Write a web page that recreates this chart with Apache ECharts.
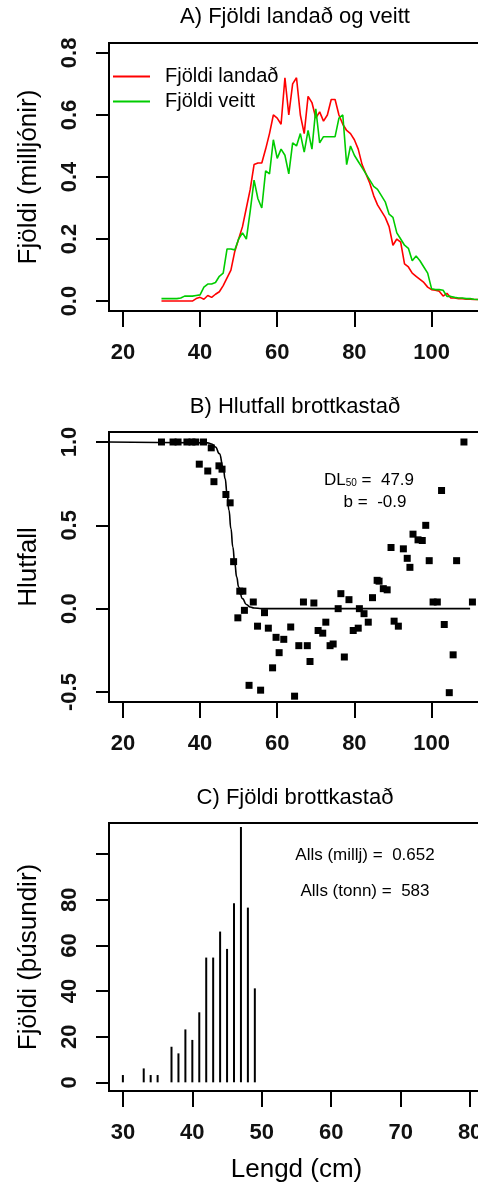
<!DOCTYPE html>
<html><head><meta charset="utf-8">
<script src="https://cdn.jsdelivr.net/npm/echarts@6/dist/echarts.min.js"></script>
<style>html,body{margin:0;padding:0;background:#fff;}#c{width:478px;height:1184px;}</style>
</head><body><div id="c"></div>
<script>
// ---------- Panel A: numbers landed / released (millions) by length ----------
const lengthA = [30,31,32,33,34,35,36,37,38,39,40,41,42,43,44,45,46,47,48,49,50,51,52,53,54,55,56,57,58,59,60,61,62,63,64,65,66,67,68,69,70,71,72,73,74,75,76,77,78,79,80,81,82,83,84,85,86,87,88,89,90,91,92,93,94,95,96,97,98,99,100,101,102,103,104,105,106,107,108,109,110,111,112,113];
const landed = [0,0,0,0,0,0,0,0,0,0.008,0.012,0.006,0.018,0.012,0.022,0.03,0.05,0.075,0.1,0.16,0.2,0.24,0.3,0.36,0.44,0.445,0.445,0.49,0.54,0.6,0.59,0.57,0.72,0.6,0.7,0.72,0.6,0.54,0.66,0.64,0.59,0.61,0.58,0.6,0.65,0.65,0.6,0.57,0.55,0.54,0.52,0.49,0.44,0.41,0.38,0.34,0.31,0.29,0.27,0.24,0.18,0.2,0.19,0.12,0.11,0.09,0.08,0.07,0.06,0.045,0.037,0.035,0.032,0.016,0.025,0.01,0.01,0.008,0.008,0.006,0.006,0.005,0.005,0.005];
const released = [0.008,0.008,0.008,0.008,0.008,0.01,0.016,0.016,0.016,0.018,0.02,0.045,0.055,0.055,0.06,0.08,0.09,0.168,0.168,0.165,0.2,0.22,0.2,0.29,0.39,0.33,0.3,0.42,0.41,0.52,0.46,0.49,0.47,0.41,0.51,0.5,0.54,0.48,0.55,0.49,0.62,0.51,0.53,0.53,0.53,0.53,0.59,0.6,0.44,0.5,0.47,0.45,0.43,0.41,0.39,0.37,0.36,0.34,0.32,0.28,0.27,0.22,0.2,0.18,0.17,0.13,0.145,0.13,0.11,0.09,0.04,0.037,0.037,0.035,0.015,0.015,0.012,0.01,0.01,0.008,0.008,0.006,0.005,0.005];
const xTicksA = [20,40,60,80,100];
const yTicksA = [0,0.2,0.4,0.6,0.8];

// ---------- Panel B: proportion discarded ----------
const propX = [30,33,34.3,36.6,37.9,38.9,40.9,42.9,39.8,42.0,43.6,44.9,45.7,46.7,47.8,48.7,50.3,51.1,49.8,51.5,53.8,56.7,54.9,57.7,59.7,61.7,60.5,58.8,52.7,55.7,63.5,64.5,66.8,69.5,65.6,67.8,68.5,70.6,71.8,72.6,73.7,74.5,77.4,75.8,76.5,78.6,79.7,81.0,81.3,82.5,83.6,84.7,85.9,86.4,87.5,88.5,90.3,91.4,89.5,92.7,93.7,94.4,95.2,96.5,97.6,98.5,99.4,100.4,101.5,102.6,103.3,104.6,105.6,106.5,108.4,110.6];
const propY = [1,1,1,1,1,1,1,0.965,0.867,0.826,0.762,0.857,0.837,0.685,0.635,0.282,0.105,0.105,-0.055,-0.01,0.04,-0.024,-0.105,-0.117,-0.172,-0.184,-0.264,-0.355,-0.46,-0.489,-0.11,-0.525,0.04,0.034,-0.222,-0.222,-0.317,-0.131,-0.147,-0.081,-0.222,-0.212,-0.29,0.0,0.09,0.054,-0.131,-0.117,0.0,-0.03,-0.081,0.066,0.17,0.165,0.12,0.113,-0.075,-0.105,0.367,0.359,0.302,0.248,0.447,0.413,0.409,0.5,0.288,0.04,0.04,0.709,-0.095,-0.504,-0.277,0.288,1.0,0.04];
const curveX = [16,42,43,44,45,46,46.5,47,47.5,48,48.5,49,49.5,50,51,52,53,54,56,110];
const curveY = [1,0.995,0.988,0.97,0.93,0.85,0.78,0.69,0.59,0.48,0.37,0.27,0.19,0.13,0.06,0.025,0.01,0.004,0,0];
const xTicksB = [20,40,60,80,100];
const yTicksB = [-0.5,0,0.5,1.0];

// ---------- Panel C: numbers discarded (thousands) ----------
const lengthC = [30,33,34,35,37,38,39,40,41,42,43,44,45,46,47,48,49];
const discarded = [3.2,6.1,3.2,3.2,15.6,12.7,23.2,18.6,30.7,54.7,54.7,66.1,58.5,78.5,112,76.6,41.2];
const xTicksC = [30,40,50,60,70,80];
const yTicksC = [0,20,40,60,80,100];
const yLabelsC = [0,20,40,60,80];

const FF = "'Liberation Sans', Arial, sans-serif";
const BLACK = '#000';

function xAxisCfg(gi, min, max, ticks, extra) {
  return Object.assign({
    gridIndex: gi, type: 'value', min: min, max: max,
    axisLine: {show: false, onZero: false},
    axisTick: {show: true, length: 16, lineStyle: {color: BLACK, width: 2}, customValues: ticks},
    axisLabel: {customValues: ticks, margin: 31, fontSize: 22, fontWeight: 'bold', color: '#111', fontFamily: FF},
    splitLine: {show: false}
  }, extra || {});
}
function yAxisCfg(gi, min, max, ticks, labels, fmt, name) {
  return {
    gridIndex: gi, type: 'value', min: min, max: max,
    axisLine: {show: false, onZero: false},
    axisTick: {show: true, length: 13, lineStyle: {color: BLACK, width: 2}, customValues: ticks},
    axisLabel: {customValues: labels, rotate: 90, margin: 28, fontSize: 22, fontWeight: 'bold', color: '#111', fontFamily: FF, formatter: fmt},
    splitLine: {show: false},
    name: name, nameLocation: 'middle', nameGap: 67,
    nameTextStyle: {fontSize: 26, color: BLACK, fontFamily: FF}
  };
}
const gridStyle = {show: true, borderColor: BLACK, borderWidth: 2, backgroundColor: 'transparent', containLabel: false, outerBoundsMode: 'none'};

const chart = echarts.init(document.getElementById('c'));
chart.setOption({
  animation: false,
  backgroundColor: '#fff',
  grid: [
    Object.assign({left: 109, top: 43, width: 375, height: 268}, gridStyle),
    Object.assign({left: 109, top: 432, width: 375, height: 270}, gridStyle),
    Object.assign({left: 109, top: 823, width: 375, height: 268}, gridStyle)
  ],
  xAxis: [
    xAxisCfg(0, 16.4, 113.6, xTicksA),
    xAxisCfg(1, 16.4, 113.6, xTicksB),
    xAxisCfg(2, 28, 82, xTicksC, {name: 'Lengd (cm)', nameLocation: 'middle', nameGap: 66,
      nameTextStyle: {fontSize: 26, color: BLACK, fontFamily: FF}})
  ],
  yAxis: [
    yAxisCfg(0, -0.032, 0.832, yTicksA, yTicksA, v => v.toFixed(1), 'Fjöldi (milljónir)'),
    yAxisCfg(1, -0.56, 1.06, yTicksB, yTicksB, v => v.toFixed(1), 'Hlutfall'),
    yAxisCfg(2, -3.8, 113.7, yTicksC, yLabelsC, v => String(v), 'Fjöldi (þúsundir)')
  ],
  legend: {
    data: ['Fjöldi landað', 'Fjöldi veitt'],
    orient: 'vertical', left: 113, top: 64, padding: 0, itemGap: 0,
    itemWidth: 37, itemHeight: 2, icon: 'rect', selectedMode: false,
    textStyle: {fontSize: 20, lineHeight: 25, color: BLACK, fontFamily: FF, padding: [0, 0, 0, 10]}
  },
  graphic: [
    {type: 'text', x: 295, y: 17, style: {text: 'A) Fjöldi landað og veitt', fontSize: 22, fontFamily: FF, fill: BLACK, align: 'center', verticalAlign: 'middle'}},
    {type: 'text', x: 295, y: 407, style: {text: 'B) Hlutfall brottkastað', fontSize: 22, fontFamily: FF, fill: BLACK, align: 'center', verticalAlign: 'middle'}},
    {type: 'text', x: 295, y: 798, style: {text: 'C) Fjöldi brottkastað', fontSize: 22, fontFamily: FF, fill: BLACK, align: 'center', verticalAlign: 'middle'}},
    {type: 'text', x: 369, y: 480, style: {text: '{a|DL}{s|50}{a| =  47.9}', align: 'center', verticalAlign: 'middle',
      rich: {a: {fontSize: 17, fontFamily: FF, fill: BLACK, color: BLACK}, s: {fontSize: 10, fontFamily: FF, color: BLACK, verticalAlign: 'bottom'}}}},
    {type: 'text', x: 375, y: 502, style: {text: 'b =  -0.9', fontSize: 17, fontFamily: FF, fill: BLACK, align: 'center', verticalAlign: 'middle'}},
    {type: 'text', x: 365, y: 855, style: {text: 'Alls (millj) =  0.652', fontSize: 17, fontFamily: FF, fill: BLACK, align: 'center', verticalAlign: 'middle'}},
    {type: 'text', x: 365, y: 891, style: {text: 'Alls (tonn) =  583', fontSize: 17, fontFamily: FF, fill: BLACK, align: 'center', verticalAlign: 'middle'}}
  ],
  series: [
    {name: 'Fjöldi landað', type: 'line', xAxisIndex: 0, yAxisIndex: 0, showSymbol: false,
     color: '#FF0000', lineStyle: {color: '#FF0000', width: 1.6},
     data: lengthA.map((x, i) => [x, landed[i]])},
    {name: 'Fjöldi veitt', type: 'line', xAxisIndex: 0, yAxisIndex: 0, showSymbol: false,
     color: '#00CC00', lineStyle: {color: '#00CC00', width: 1.6},
     data: lengthA.map((x, i) => [x, released[i]])},
    {type: 'scatter', xAxisIndex: 1, yAxisIndex: 1, symbol: 'rect', symbolSize: 7,
     itemStyle: {color: BLACK, opacity: 1}, data: propX.map((x, i) => [x, propY[i]])},
    {type: 'line', xAxisIndex: 1, yAxisIndex: 1, showSymbol: false, smooth: true, smoothMonotone: 'x',
     lineStyle: {color: BLACK, width: 1.6}, data: curveX.map((x, i) => [x, curveY[i]])},
    {type: 'bar', xAxisIndex: 2, yAxisIndex: 2, barWidth: 2, itemStyle: {color: BLACK},
     data: lengthC.map((x, i) => [x, discarded[i]])}
  ]
});
</script>
</body></html>
